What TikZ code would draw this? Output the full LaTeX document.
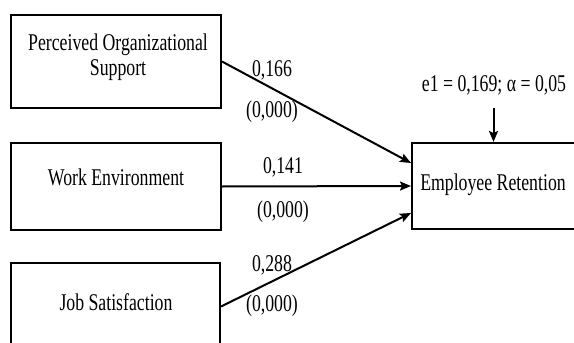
\documentclass[tikz,border=0pt]{standalone}
\usepackage{fontspec}
\setmainfont{Liberation Serif}[FakeStretch=0.74]
\usetikzlibrary{arrows.meta}
\begin{document}
\begin{tikzpicture}[x=1pt,y=-1pt,
  box/.style={draw, line width=2pt, rectangle, inner sep=0pt},
  txt/.style={inner sep=0pt, align=center, font=\fontsize{24}{25}\selectfont},
  arr/.style={line width=2pt, -{Stealth[length=11pt,width=9pt,inset=2pt]}}]
\useasboundingbox (0,0) rectangle (574,343);
\clip (0,0) rectangle (574,343);
\node[box, minimum width=210pt, minimum height=93pt] (b1) at (116,61.5) {};
\node[box, minimum width=210pt, minimum height=87pt] (b2) at (116,186.5) {};
\node[box, minimum width=209pt, minimum height=87pt] (b3) at (115.5,306.5) {};
\node[box, minimum width=163pt, minimum height=86pt] (er) at (493.5,186) {};
\node[txt] (t1) at (118,57) {Perceived Organizational\\Support};
\node[txt] (t2) at (116,177) {Work Environment};
\node[txt] (t3) at (116,302) {Job Satisfaction};
\node[txt] (t4) at (493,185) {Employee Retention};
\node[txt] (e1) at (494,85) {e1 = 0,169; α = 0,05};
\node[txt] (l1) at (272,70) {0,166};
\node[txt] (p1) at (272,112) {(0,000)};
\node[txt] (l2) at (283,167) {0,141};
\node[txt] (p2) at (283,212) {(0,000)};
\node[txt] (l3) at (272,265) {0,288};
\node[txt] (p3) at (272,306) {(0,000)};
\coordinate (e1s) at (493.5,108);
\draw[arr] (b1.east) -- ([yshift=23pt]er.west);
\draw[arr] (b2.east) -- (er.west);
\draw[arr] (b3.east) -- ([yshift=-27pt]er.west);
\draw[arr] (e1s) -- (er.north);
\end{tikzpicture}
\end{document}
